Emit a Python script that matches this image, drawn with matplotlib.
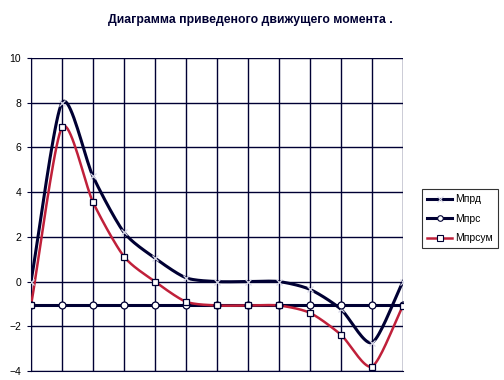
import numpy as np
import matplotlib.pyplot as plt

# Data (13 positions)
positions = list(range(13))
m_prd = [0.0, 8.0, 4.7, 2.2, 1.05, 0.17, 0.0, 0.0, 0.0, -0.35, -1.24, -2.73, 0.0]
m_prs = [-1.07] * 13
m_prsum = [-1.07, 6.9, 3.55, 1.12, 0.0, -0.9, -1.07, -1.07, -1.07, -1.4, -2.38, -3.8, -1.08]
labels = ["Мпрд", "Мпрс", "Мпрсум"]

navy = "#000033"


# Excel-like smoothed line (cubic Hermite through the points)
def smooth(xs, ys, n=20, k=0.75):
    xs = np.asarray(xs, float)
    ys = np.asarray(ys, float)
    px = np.concatenate([[2 * xs[0] - xs[1]], xs, [2 * xs[-1] - xs[-2]]])
    py = np.concatenate([[2 * ys[0] - ys[1]], ys, [2 * ys[-1] - ys[-2]]])
    t = np.linspace(0, 1, n, endpoint=False)
    h00 = 2 * t ** 3 - 3 * t ** 2 + 1
    h10 = t ** 3 - 2 * t ** 2 + t
    h01 = -2 * t ** 3 + 3 * t ** 2
    h11 = t ** 3 - t ** 2
    out_x, out_y = [], []
    for i in range(1, len(px) - 2):
        for arr, out in ((px, out_x), (py, out_y)):
            p0, p1, p2, p3 = arr[i - 1], arr[i], arr[i + 1], arr[i + 2]
            m1 = k * (p2 - p0) / 2
            m2 = k * (p3 - p1) / 2
            out.extend(h00 * p1 + h10 * m1 + h01 * p2 + h11 * m2)
    out_x.append(xs[-1])
    out_y.append(ys[-1])
    return np.array(out_x), np.array(out_y)


plt.rcParams['font.family'] = ['Liberation Sans', 'DejaVu Sans']

fig = plt.figure(figsize=(5.04, 3.80), dpi=100)
ax = fig.add_axes([31 / 504, 1 - 371 / 380, 372 / 504, 313 / 380])

series = [
    (m_prd, navy, 'x', 'none', 2.2),
    (m_prs, navy, 'o', 'white', 2.2),
    (m_prsum, "#c0203a", 's', 'white', 1.8),
]
for vals, color, marker, mfc, lw in series:
    sx, sy = smooth(positions, vals)
    ax.plot(sx, sy, color=color, lw=lw, zorder=3)
for (vals, color, marker, mfc, lw), lab in zip(series, labels):
    ax.plot(positions, vals, linestyle='none', marker=marker, ms=5 if marker != 'x' else 4,
            mfc=mfc, mec='#d8d8e8' if marker == 'x' else navy, mew=0.9, zorder=4)
    # legend proxies
    ax.plot([], [], color=color, lw=lw, marker=marker, mfc=mfc,
            mec='#d8d8e8' if marker == 'x' else navy, ms=4, mew=0.8, label=lab)

ax.set_xlim(0, 12)
ax.set_ylim(-4, 10)
ax.set_yticks(range(-4, 11, 2))
ax.set_xticks(positions)
ax.tick_params(axis='x', length=0, labelbottom=False)
ax.tick_params(axis='y', length=3, color=navy, labelsize=7.5, pad=4)
ax.grid(True, color=navy, lw=1.0)
for s in ax.spines.values():
    s.set_visible(False)
ax.spines['left'].set_visible(True)
ax.spines['left'].set_color(navy)
ax.spines['bottom'].set_visible(True)
ax.spines['bottom'].set_color(navy)

fig.text(250 / 504, 1 - 20 / 380, "Диаграмма приведеного движущего момента .",
         ha='center', va='center', fontsize=8.8, fontweight='bold', color=navy)

leg = fig.legend(loc='upper left', bbox_to_anchor=(417 / 504, 1 - 184 / 380),
                 frameon=True, fancybox=False, fontsize=7.5, handlelength=2.4,
                 borderpad=0.5, labelspacing=0.9, handletextpad=0.3)
leg.get_frame().set_edgecolor('black')
leg.get_frame().set_linewidth(0.8)

fig.savefig("out.png", dpi=100)
